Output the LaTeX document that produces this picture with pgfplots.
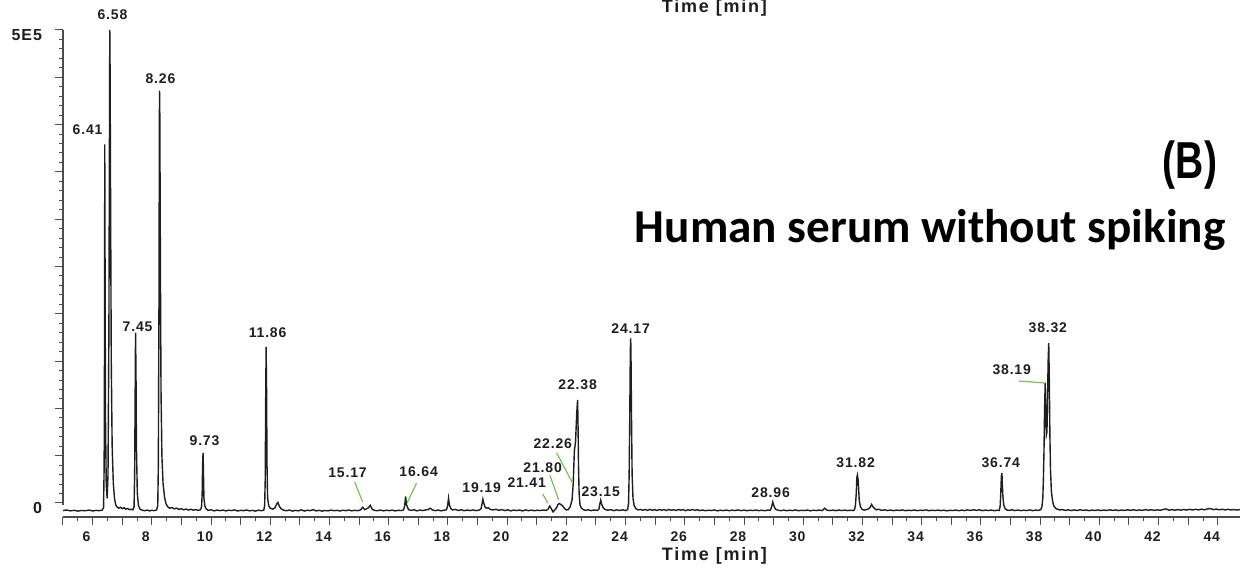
\documentclass[border=0pt]{standalone}
\usepackage{fontspec}
\setmainfont{Liberation Sans}
\newfontfamily\lab[LetterSpace=6]{Liberation Sans}
\newfontfamily\wide[LetterSpace=10]{Liberation Sans}
\newfontfamily\carl{Carlito}
\usepackage{pgfplots}
\pgfplotsset{compat=1.18}
\definecolor{lead}{RGB}{125,190,85}
\definecolor{ink}{RGB}{30,30,30}
\tikzset{pk/.style={font=\lab\bfseries\fontsize{7}{8}\selectfont, text=ink, inner sep=0pt}}
\begin{document}
\begin{tikzpicture}
\useasboundingbox (-31.5pt,-25pt) rectangle (588.5pt,258.5pt);
\clip (-31.5pt,-25pt) rectangle (588.5pt,258.5pt);
\begin{axis}[
  name=ax, at={(0,0)}, anchor=south west,
  scale only axis, width=588.5pt, height=243.5pt,
  xmin=5, xmax=44.75, ymin=-14.8, ymax=500,
  axis x line*=bottom, axis y line*=left,
  axis line style={gray!60!black, line width=0.6pt},
  y axis line style={shorten <=6pt},
  clip=false,
  tick align=outside,
  major tick length=4pt, minor tick length=2.2pt,
  tick style={gray!60!black, line width=0.5pt},
  xtick={5,...,44}, minor x tick num=1,
  xticklabels={,6,,8,,10,,12,,14,,16,,18,,20,,22,,24,,26,,28,,30,,32,,34,,36,,38,,40,,42,,44},
  ytick={0,50,...,500}, minor y tick num=4,
  yticklabels={0,,,,,,,,,,5E5},
  xticklabel style={font=\lab\bfseries\fontsize{7}{8}\selectfont, text=ink, xshift=-3pt},
  yticklabel style={font=\lab\bfseries\fontsize{8}{9}\selectfont, text=ink, xshift=-3pt, yshift=-2.5pt},
]
\addplot[ink, line width=0.7pt] coordinates {
(5.00,-8.0) (5.12,-7.4) (5.25,-8.3) (5.38,-7.7) (5.50,-8.6) (5.62,-7.9) (5.75,-8.2) (5.88,-7.5)
(6.00,-8.4) (6.12,-7.8) (6.22,-8.1) (6.32,-7.6) (6.37,-5) (6.39,40) (6.405,200) (6.41,379)
(6.42,260) (6.435,90) (6.46,20) (6.49,5) (6.52,30) (6.55,180) (6.57,400) (6.58,500)
(6.59,460) (6.61,300) (6.63,150) (6.66,60) (6.70,20) (6.74,5) (6.78,-2) (6.82,-4)
(6.88,-5.5) (6.94,-4.5) (7.00,-6) (7.06,-5) (7.12,-6.5) (7.18,-5.8) (7.24,-7) (7.30,-6.6)
(7.36,-7.2) (7.40,-4) (7.42,30) (7.44,130) (7.45,180) (7.465,140) (7.48,60) (7.51,10)
(7.55,-3) (7.60,-6.5) (7.68,-7.6) (7.76,-8.2) (7.84,-7.5) (7.92,-8.3) (8.00,-7.7) (8.08,-8.1)
(8.16,-7.4) (8.20,-3) (8.22,40) (8.24,200) (8.255,400) (8.26,436) (8.27,410) (8.29,250)
(8.31,120) (8.34,50) (8.38,20) (8.43,6) (8.48,-1) (8.54,-4) (8.60,-5.5) (8.68,-4.8)
(8.76,-6.2) (8.84,-5.5) (8.92,-6.8) (9.00,-6) (9.08,-7.2) (9.16,-6.4) (9.24,-7.5) (9.32,-6.6)
(9.40,-7.6) (9.48,-6.9) (9.56,-7.8) (9.64,-7.2) (9.68,-4) (9.70,10) (9.715,40) (9.73,53)
(9.745,30) (9.76,5) (9.79,-3) (9.83,-6) (9.90,-7.8) (10.00,-7.2) (10.10,-8.3) (10.20,-7.5)
(10.30,-8.1) (10.40,-7.4) (10.50,-8.4) (10.60,-7.6) (10.70,-8.0) (10.80,-7.3) (10.90,-8.5) (11.00,-7.7)
(11.10,-8.1) (11.20,-7.4) (11.30,-8.3) (11.40,-7.8) (11.50,-8.6) (11.60,-7.5) (11.70,-8.2) (11.78,-7.6)
(11.81,-3) (11.83,25) (11.845,110) (11.86,165) (11.875,120) (11.89,40) (11.91,5) (11.95,-3)
(12.00,-5.5) (12.08,-6.5) (12.16,-5) (12.22,-1) (12.26,0.5) (12.30,-3) (12.36,-6) (12.44,-7.5)
(12.55,-8.2) (12.65,-7.4) (12.75,-8.6) (12.85,-7.8) (12.95,-8.3) (13.05,-7.2) (13.15,-8.5) (13.25,-7.6)
(13.35,-8.1) (13.45,-7.0) (13.55,-8.4) (13.65,-7.7) (13.75,-8.6) (13.85,-7.9) (13.95,-8.3) (14.05,-7.5)
(14.15,-8.2) (14.25,-7.7) (14.35,-8.5) (14.45,-7.6) (14.55,-8.1) (14.65,-7.4) (14.75,-8.3) (14.85,-7.7)
(14.95,-8.2) (15.05,-7.3) (15.12,-4.5) (15.19,-7.1) (15.26,-6.0) (15.31,-5.2) (15.38,-2.5) (15.44,-6.5)
(15.52,-7.8) (15.62,-8.2) (15.72,-7.4) (15.82,-8.3) (15.92,-7.6) (16.02,-8.1) (16.12,-7.5) (16.22,-8.4)
(16.32,-7.7) (16.42,-8.0) (16.50,-7.4) (16.54,-3) (16.57,7) (16.60,-2) (16.63,-4) (16.67,-7)
(16.75,-7.8) (16.85,-7.2) (16.95,-8.3) (17.05,-7.5) (17.15,-8.0) (17.25,-7.3) (17.33,-7.0) (17.40,-5.5)
(17.47,-7.2) (17.57,-8.1) (17.67,-7.4) (17.77,-8.3) (17.87,-7.6) (17.95,-7.2) (17.99,-3) (18.02,5)
(18.05,-2) (18.09,-5.5) (18.15,-7.3) (18.25,-6.8) (18.35,-7.9) (18.45,-7.1) (18.55,-8.2) (18.65,-7.4)
(18.75,-8.0) (18.85,-7.3) (18.95,-8.1) (19.05,-7.5) (19.12,-6) (19.15,-1) (19.18,4) (19.21,0)
(19.25,-4) (19.30,-5.5) (19.36,-5) (19.43,-6.8) (19.52,-7.4) (19.62,-6.6) (19.72,-7.8) (19.82,-7.0)
(19.92,-8.0) (20.02,-7.2) (20.12,-8.3) (20.22,-7.5) (20.32,-8.0) (20.42,-7.4) (20.52,-8.4) (20.62,-7.3)
(20.72,-8.1) (20.82,-7.5) (20.92,-8.2) (21.02,-7.6) (21.12,-8.0) (21.22,-7.4) (21.32,-7.8) (21.38,-6.5)
(21.44,-3.2) (21.50,-6.5) (21.55,-9.5) (21.60,-7.5) (21.66,-5.5) (21.71,-2) (21.76,-0.5) (21.81,-1.5)
(21.87,-3) (21.93,-5.5) (22.00,-7.4) (22.06,-7.0) (22.13,-4) (22.19,3) (22.23,20) (22.27,55)
(22.31,65) (22.35,95) (22.37,105) (22.38,109) (22.395,80) (22.41,40) (22.43,10) (22.46,-2)
(22.50,-5) (22.56,-6.8) (22.64,-7.8) (22.74,-7.2) (22.84,-8.1) (22.94,-7.4) (23.04,-7.9) (23.10,-6.5)
(23.13,-1) (23.16,3) (23.19,-1) (23.23,-4.5) (23.30,-6.8) (23.40,-7.6) (23.50,-7.0) (23.60,-8.1)
(23.70,-7.3) (23.80,-7.9) (23.90,-7.2) (24.00,-8.0) (24.07,-7.0) (24.10,0) (24.12,30) (24.14,90)
(24.16,160) (24.17,174) (24.18,165) (24.20,90) (24.22,30) (24.25,5) (24.29,-3) (24.35,-6)
(24.42,-7.3) (24.50,-6.8) (24.58,-7.6) (24.66,-6.9) (24.74,-7.8) (24.82,-6.8) (24.90,-7.7) (24.98,-7.0)
(25.06,-7.9) (25.14,-6.9) (25.22,-7.6) (25.30,-7.0) (25.38,-8.0) (25.46,-6.8) (25.54,-7.7) (25.62,-7.1)
(25.70,-7.9) (25.78,-6.9) (25.86,-7.6) (25.94,-7.0) (26.02,-8.1) (26.10,-7.2) (26.18,-7.7) (26.26,-6.8)
(26.34,-7.8) (26.42,-7.1) (26.50,-8.0) (26.60,-7.4) (26.70,-8.2) (26.80,-7.6) (26.90,-8.0) (27.00,-7.3)
(27.10,-8.3) (27.20,-7.6) (27.30,-8.1) (27.40,-7.4) (27.50,-8.2) (27.60,-7.5) (27.70,-8.0) (27.80,-7.3)
(27.90,-8.1) (28.00,-7.5) (28.10,-8.2) (28.20,-7.6) (28.30,-8.0) (28.40,-7.4) (28.50,-8.1) (28.60,-7.6)
(28.70,-8.2) (28.80,-7.5) (28.88,-7.8) (28.93,-4.5) (28.97,1) (29.01,-3) (29.06,-6.5) (29.14,-7.6)
(29.24,-8.1) (29.34,-7.5) (29.44,-8.2) (29.54,-7.6) (29.64,-8.0) (29.74,-7.3) (29.84,-8.2) (29.94,-7.7)
(30.04,-8.0) (30.14,-7.4) (30.24,-8.3) (30.34,-7.6) (30.44,-8.0) (30.54,-7.4) (30.64,-8.1) (30.72,-5.5)
(30.80,-7.6) (30.90,-8.0) (31.00,-7.5) (31.10,-8.2) (31.20,-7.4) (31.30,-8.0) (31.40,-7.5) (31.50,-8.1)
(31.60,-7.6) (31.68,-8.0) (31.73,-7.3) (31.76,-3) (31.79,10) (31.81,27) (31.83,29.6) (31.85,25)
(31.87,15) (31.89,3) (31.93,-4) (31.98,-6.5) (32.05,-7.6) (32.13,-7.0) (32.20,-6.2) (32.26,-4.5)
(32.31,-1.5) (32.35,-4) (32.40,-5.5) (32.46,-7.2) (32.55,-6.6) (32.65,-7.8) (32.75,-7.2) (32.85,-8.0)
(32.95,-7.4) (33.05,-8.1) (33.15,-7.5) (33.25,-7.9) (33.35,-7.3) (33.45,-8.2) (33.55,-7.6) (33.65,-8.0)
(33.75,-7.4) (33.85,-8.1) (33.95,-7.6) (34.05,-7.9) (34.15,-7.3) (34.25,-8.2) (34.35,-7.6) (34.45,-8.0)
(34.55,-7.5) (34.65,-8.1) (34.75,-7.6) (34.85,-8.3) (34.95,-7.7) (35.05,-8.0) (35.15,-7.4) (35.25,-8.2)
(35.35,-7.5) (35.45,-8.0) (35.55,-7.3) (35.65,-7.9) (35.75,-7.1) (35.85,-7.8) (35.95,-7.2) (36.05,-8.1)
(36.15,-7.5) (36.25,-8.0) (36.35,-7.4) (36.45,-8.2) (36.55,-7.6) (36.62,-7.9) (36.65,-3) (36.67,10)
(36.69,28) (36.71,31.7) (36.72,22) (36.74,8) (36.77,-2) (36.81,-5.5) (36.87,-7.4) (36.95,-7.8)
(37.05,-7.2) (37.15,-8.0) (37.25,-7.4) (37.35,-8.1) (37.45,-7.6) (37.55,-8.0) (37.65,-7.3) (37.75,-8.1)
(37.85,-7.5) (37.95,-7.8) (38.02,-7.0) (38.06,-4) (38.09,5) (38.11,25) (38.13,55) (38.15,100)
(38.17,127) (38.19,100) (38.21,72) (38.23,75) (38.25,110) (38.27,150) (38.29,169) (38.31,130)
(38.33,70) (38.35,35) (38.38,12) (38.42,2) (38.46,-3) (38.52,-5.5) (38.58,-6.5) (38.66,-7.4)
(38.75,-7.0) (38.85,-7.8) (38.95,-7.2) (39.05,-8.0) (39.15,-7.3) (39.25,-7.9) (39.35,-7.1) (39.45,-7.8)
(39.55,-7.4) (39.65,-8.1) (39.75,-7.5) (39.85,-7.9) (39.95,-7.3) (40.05,-8.0) (40.15,-7.4) (40.25,-7.9)
(40.35,-7.2) (40.45,-7.8) (40.55,-7.3) (40.65,-8.0) (40.75,-7.4) (40.85,-7.9) (40.95,-7.2) (41.05,-7.8)
(41.15,-7.1) (41.25,-7.9) (41.35,-7.3) (41.45,-7.8) (41.55,-7.0) (41.65,-7.7) (41.75,-7.1) (41.85,-7.8)
(41.95,-7.2) (42.05,-7.7) (42.15,-6.9) (42.25,-6.2) (42.35,-7.6) (42.45,-7.0) (42.55,-7.7) (42.65,-6.9)
(42.75,-7.6) (42.85,-6.8) (42.95,-7.5) (43.05,-6.7) (43.15,-7.4) (43.25,-6.6) (43.35,-7.3) (43.45,-6.5)
(43.55,-7.2) (43.65,-6.3) (43.75,-5.8) (43.85,-7.0) (43.95,-6.4) (44.05,-7.2) (44.15,-6.6) (44.25,-7.3)
(44.35,-6.7) (44.45,-7.4) (44.55,-6.9) (44.65,-7.5) (44.75,-7.0)
};
% leader lines
\draw[lead, line width=0.6pt] (14.85,22.2) -- (15.12,1.1);
\draw[lead, line width=0.6pt] (16.94,21.1) -- (16.62,0);
\draw[lead, line width=0.6pt] (21.20,9.5) -- (21.37,0);
\draw[lead, line width=0.6pt] (21.44,29.6) -- (21.74,3.2);
\draw[lead, line width=0.6pt] (21.67,52.9) -- (22.21,21.1);
\draw[lead, line width=0.6pt] (37.28,129.0) -- (38.16,126.8);
% peak labels
\node[pk] at (6.67,515.8) {6.58};
\node[pk] at (5.83,394.3) {6.41};
\node[pk] at (8.29,448.2) {8.26};
\node[pk] at (7.52,186.0) {7.45};
\node[pk] at (9.78,65.5) {9.73};
\node[pk] at (11.91,179.7) {11.86};
\node[pk] at (14.61,31.7) {15.17};
\node[pk] at (17.01,32.8) {16.64};
\node[pk] at (19.14,15.9) {19.19};
\node[pk] at (20.66,21.1) {21.41};
\node[pk] at (21.20,37.0) {21.80};
\node[pk] at (21.54,62.4) {22.26};
\node[pk] at (22.38,124.7) {22.38};
\node[pk] at (23.16,11.6) {23.15};
\node[pk] at (24.17,183.9) {24.17};
\node[pk] at (28.90,10.6) {28.96};
\node[pk] at (31.77,42.3) {31.82};
\node[pk] at (36.67,42.3) {36.74};
\node[pk] at (37.04,140.6) {38.19};
\node[pk] at (38.26,185.0) {38.32};
% axis titles and panel text
\node[font=\wide\bfseries\fontsize{9}{10}\selectfont, text=ink, inner sep=0pt] at (27.0,-56) {Time [min]};
\node[font=\wide\bfseries\fontsize{9}{10}\selectfont, text=ink, inner sep=0pt] at (27.0,523) {Time [min]};
\node[font=\carl\bfseries\fontsize{23.6}{27}\selectfont, anchor=west, inner sep=0pt] at (24.30,289) {Human serum without spiking};
\node[font=\bfseries\fontsize{26}{30}\selectfont, xscale=0.75, inner sep=0pt] at (43.06,357.3) {(B)};
\end{axis}
\end{tikzpicture}
\end{document}
